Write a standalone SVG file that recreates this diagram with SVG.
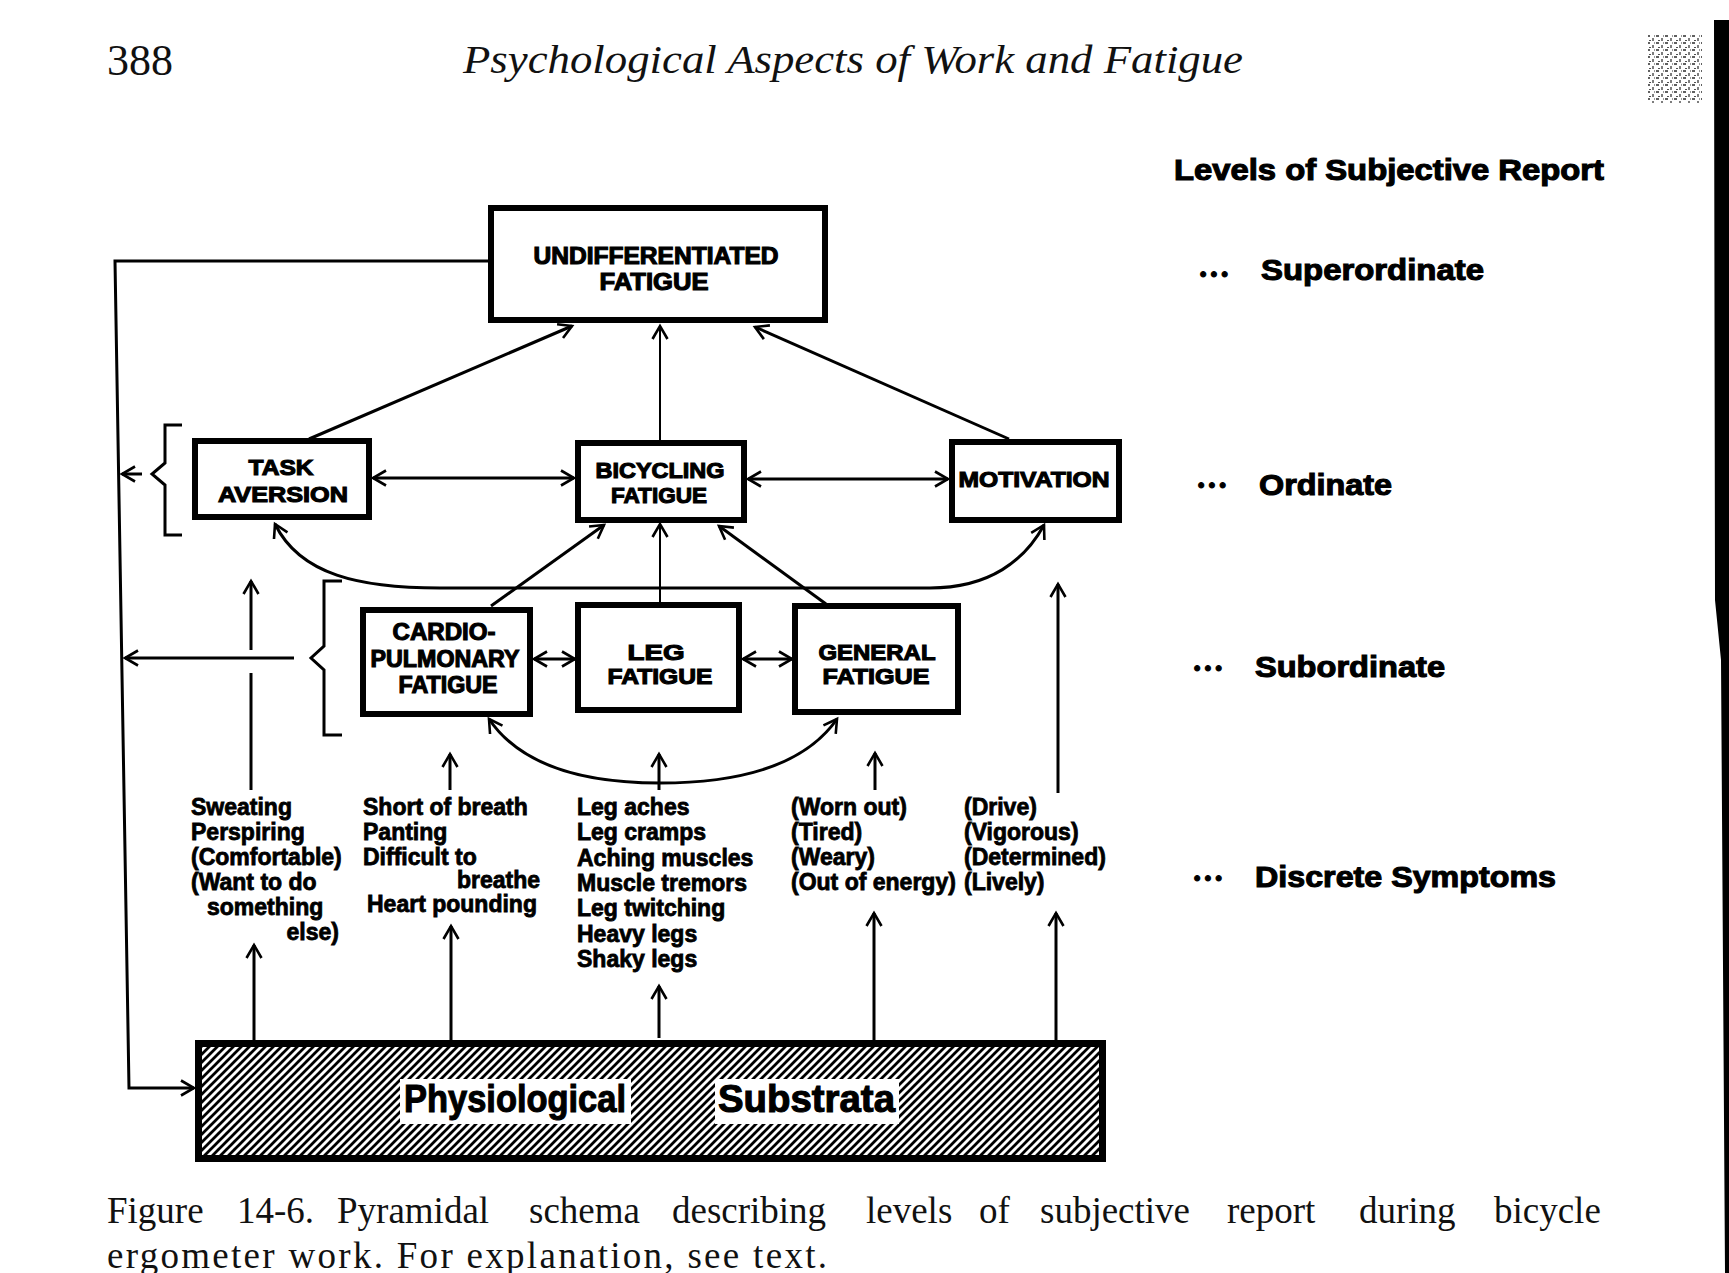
<svg xmlns="http://www.w3.org/2000/svg" width="1729" height="1273" viewBox="0 0 1729 1273">
<style>
.bx{fill:#fff;stroke:#000;stroke-width:6}
.lbl{font-family:"Liberation Sans",Arial,sans-serif;font-weight:bold;fill:#000;stroke:#000;stroke-width:1.1;text-anchor:middle}
.sym{font-family:"Liberation Sans",Arial,sans-serif;font-weight:bold;font-size:23px;fill:#000;stroke:#000;stroke-width:0.8}
.lev{font-family:"Liberation Sans",Arial,sans-serif;font-weight:bold;fill:#000;stroke:#000;stroke-width:1.1}
.serif{font-family:"Liberation Serif","Times New Roman",serif;fill:#111}
.c{fill:none;stroke:#000;stroke-width:3}
.t{stroke-width:2}
.a{marker-end:url(#ah)}
.aa{marker-start:url(#ah);marker-end:url(#ah)}
</style>
<defs>
<marker id="ah" markerUnits="userSpaceOnUse" viewBox="-16 -10 20 20" refX="0" refY="0" markerWidth="20" markerHeight="20" orient="auto-start-reverse">
<path d="M-13,-7.5 L0,0 L-13,7.5" fill="none" stroke="#000" stroke-width="2.6"/>
</marker>
<pattern id="hatch" patternUnits="userSpaceOnUse" width="8" height="8">
<rect width="8" height="8" fill="#fff"/>
<path d="M-2,2 L2,-2 M0,8 L8,0 M6,10 L10,6" stroke="#000" stroke-width="2.8"/>
</pattern>
<pattern id="noise" patternUnits="userSpaceOnUse" width="9" height="7">
<rect x="0" y="0" width="3" height="2" fill="#444"/>
<rect x="5" y="3" width="2" height="3" fill="#666"/>
<rect x="2" y="5" width="2" height="1" fill="#333"/>
<rect x="7" y="0" width="1" height="2" fill="#888"/>
</pattern>
</defs>
<rect width="1729" height="1273" fill="#fff"/>

<!-- page header -->
<text class="serif" x="107" y="75" font-size="44">388</text>
<text class="serif" x="463" y="73" font-size="41" font-style="italic" textLength="780" lengthAdjust="spacingAndGlyphs">Psychological Aspects of Work and Fatigue</text>

<!-- scan edge -->
<rect x="1648" y="35" width="54" height="68" fill="url(#noise)" opacity="0.85"/>
<polygon points="1714,20 1729,20 1729,1273 1725,1273 1721,660 1715,600" fill="#000"/>

<!-- level labels -->
<g id="levels">
<text class="lev" x="1174" y="180" font-size="29" textLength="430" lengthAdjust="spacingAndGlyphs">Levels of Subjective Report</text>
<text class="lev" x="1200" y="280" font-size="18" letter-spacing="4.5" stroke-width="0">•••</text>
<text class="lev" x="1261" y="280" font-size="30" textLength="223" lengthAdjust="spacingAndGlyphs">Superordinate</text>
<text class="lev" x="1198" y="491" font-size="18" letter-spacing="4.5" stroke-width="0">•••</text>
<text class="lev" x="1259" y="495" font-size="30" textLength="133" lengthAdjust="spacingAndGlyphs">Ordinate</text>
<text class="lev" x="1194" y="674" font-size="18" letter-spacing="4.5" stroke-width="0">•••</text>
<text class="lev" x="1255" y="677" font-size="30" textLength="190" lengthAdjust="spacingAndGlyphs">Subordinate</text>
<text class="lev" x="1194" y="884" font-size="18" letter-spacing="4.5" stroke-width="0">•••</text>
<text class="lev" x="1255" y="887" font-size="30" textLength="301" lengthAdjust="spacingAndGlyphs">Discrete Symptoms</text>
</g>

<!-- connectors -->
<g id="connectors">
<path class="c" d="M488,261 L115,261 L129,1088 L194,1088" marker-end="url(#ah)"/>
<path class="c a" d="M309,439 L572,326"/>
<path class="c t a" d="M660,441 L660,326"/>
<path class="c a" d="M1009,439 L755,327"/>
<path class="c aa" d="M373,478 L574,478"/>
<path class="c aa" d="M748,479 L948,479"/>
<path class="c aa" d="M275,524 C300,575 360,588 440,588 L930,588 C990,588 1025,560 1044,525"/>
<path class="c a" d="M491,606 L604,525"/>
<path class="c t a" d="M660,603 L660,524"/>
<path class="c a" d="M826,604 L719,526"/>
<path class="c aa" d="M534,659 L575,659"/>
<path class="c aa" d="M743,659 L792,659"/>
<path class="c aa" d="M489,719 C520,765 580,783 660,783 C742,783 805,765 837,719"/>
<path class="c" d="M182,425 L165,425 L165,463 L152,474 L165,485 L165,535 L182,535"/>
<path class="c a" d="M142,474 L122,474"/>
<path class="c" d="M342,581 L324,581 L324,646 L311,658 L324,670 L324,735 L342,735"/>
<path class="c a" d="M294,658 L125,658"/>
<path class="c" d="M251,790 L251,673"/>
<path class="c a" d="M251,650 L251,581"/>
<path class="c a" d="M1058,793 L1058,584"/>
<path class="c a" d="M450,790 L450,754"/>
<path class="c a" d="M659,790 L659,754"/>
<path class="c a" d="M875,790 L875,753"/>
<path class="c a" d="M254,1040 L254,945"/>
<path class="c a" d="M451,1040 L451,926"/>
<path class="c a" d="M659,1038 L659,986"/>
<path class="c a" d="M874,1040 L874,913"/>
<path class="c a" d="M1056,1040 L1056,913"/>
</g>

<!-- nodes -->
<g id="node-undifferentiated">
<rect class="bx" x="491" y="208" width="334" height="112"/>
<text class="lbl" x="656" y="264" font-size="23" textLength="245" lengthAdjust="spacingAndGlyphs">UNDIFFERENTIATED</text>
<text class="lbl" x="654" y="290" font-size="23" textLength="109" lengthAdjust="spacingAndGlyphs">FATIGUE</text>
</g>
<g id="node-task-aversion">
<rect class="bx" x="195" y="441" width="174" height="76"/>
<text class="lbl" x="281" y="475" font-size="22" textLength="65" lengthAdjust="spacingAndGlyphs">TASK</text>
<text class="lbl" x="283" y="502" font-size="22" textLength="130" lengthAdjust="spacingAndGlyphs">AVERSION</text>
</g>
<g id="node-bicycling">
<rect class="bx" x="578" y="443" width="166" height="77"/>
<text class="lbl" x="660" y="478" font-size="22" textLength="129" lengthAdjust="spacingAndGlyphs">BICYCLING</text>
<text class="lbl" x="659" y="503" font-size="22" textLength="96" lengthAdjust="spacingAndGlyphs">FATIGUE</text>
</g>
<g id="node-motivation">
<rect class="bx" x="952" y="442" width="167" height="78"/>
<text class="lbl" x="1034" y="487" font-size="22" textLength="151" lengthAdjust="spacingAndGlyphs">MOTIVATION</text>
</g>
<g id="node-cardio">
<rect class="bx" x="363" y="610" width="167" height="104"/>
<text class="lbl" x="444" y="640" font-size="23" textLength="103" lengthAdjust="spacingAndGlyphs">CARDIO-</text>
<text class="lbl" x="445" y="667" font-size="23" textLength="149" lengthAdjust="spacingAndGlyphs">PULMONARY</text>
<text class="lbl" x="448" y="693" font-size="23" textLength="99" lengthAdjust="spacingAndGlyphs">FATIGUE</text>
</g>
<g id="node-leg">
<rect class="bx" x="578" y="605" width="161" height="105"/>
<text class="lbl" x="656" y="660" font-size="22" textLength="57" lengthAdjust="spacingAndGlyphs">LEG</text>
<text class="lbl" x="660" y="684" font-size="22" textLength="105" lengthAdjust="spacingAndGlyphs">FATIGUE</text>
</g>
<g id="node-general">
<rect class="bx" x="795" y="606" width="163" height="106"/>
<text class="lbl" x="877" y="660" font-size="22" textLength="117" lengthAdjust="spacingAndGlyphs">GENERAL</text>
<text class="lbl" x="876" y="684" font-size="22" textLength="107" lengthAdjust="spacingAndGlyphs">FATIGUE</text>
</g>

<!-- symptom lists -->
<g id="symptoms-sweating">
<text class="sym"><tspan x="191" y="815">Sweating</tspan><tspan x="191" y="840">Perspiring</tspan><tspan x="191" y="865">(Comfortable)</tspan><tspan x="191" y="890">(Want to do</tspan><tspan x="207" y="915">something</tspan><tspan x="339" y="940" text-anchor="end">else)</tspan></text>
</g>
<g id="symptoms-breath">
<text class="sym"><tspan x="363" y="815">Short of breath</tspan><tspan x="363" y="840">Panting</tspan><tspan x="363" y="865">Difficult to</tspan><tspan x="540" y="888" text-anchor="end">breathe</tspan><tspan x="367" y="912">Heart pounding</tspan></text>
</g>
<g id="symptoms-leg">
<text class="sym"><tspan x="577" y="815">Leg aches</tspan><tspan x="577" y="840">Leg cramps</tspan><tspan x="577" y="866">Aching muscles</tspan><tspan x="577" y="891">Muscle tremors</tspan><tspan x="577" y="916">Leg twitching</tspan><tspan x="577" y="942">Heavy legs</tspan><tspan x="577" y="967">Shaky legs</tspan></text>
</g>
<g id="symptoms-general">
<text class="sym"><tspan x="791" y="815">(Worn out)</tspan><tspan x="791" y="840">(Tired)</tspan><tspan x="791" y="865">(Weary)</tspan><tspan x="791" y="890">(Out of energy)</tspan></text>
</g>
<g id="symptoms-motivation">
<text class="sym"><tspan x="964" y="815">(Drive)</tspan><tspan x="964" y="840">(Vigorous)</tspan><tspan x="964" y="865">(Determined)</tspan><tspan x="964" y="890">(Lively)</tspan></text>
</g>

<g id="node-physiological-substrata">
<rect x="198.5" y="1043.5" width="904" height="115" fill="url(#hatch)" stroke="#000" stroke-width="7"/>
<rect x="400" y="1079" width="231" height="45" fill="#fff"/>
<rect x="715" y="1079" width="184" height="45" fill="#fff"/>
<text class="lev" x="404" y="1112" font-size="38" stroke-width="0.4" textLength="222" lengthAdjust="spacingAndGlyphs">Physiological</text>
<text class="lev" x="718" y="1112" font-size="38" stroke-width="0.4" textLength="177" lengthAdjust="spacingAndGlyphs">Substrata</text>
</g>

<!-- caption -->
<text class="serif" y="1223" font-size="37"><tspan x="107">Figure</tspan><tspan x="237">14-6.</tspan><tspan x="337">Pyramidal</tspan><tspan x="529">schema</tspan><tspan x="672">describing</tspan><tspan x="866">levels</tspan><tspan x="979">of</tspan><tspan x="1040">subjective</tspan><tspan x="1227">report</tspan><tspan x="1359">during</tspan><tspan x="1494">bicycle</tspan></text>
<text class="serif" x="107" y="1268" font-size="37" textLength="720" lengthAdjust="spacing">ergometer work. For explanation, see text.</text>
</svg>
